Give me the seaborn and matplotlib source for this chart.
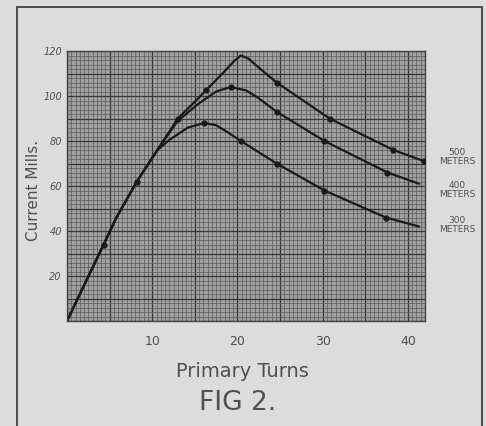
import matplotlib
matplotlib.use("Agg")
import matplotlib.pyplot as plt
import seaborn as sns
import numpy as np
from matplotlib.patches import Rectangle
from matplotlib.ticker import MultipleLocator

# ---- data ----
turns_500 = [0, 4.3, 5.8, 8.2, 10.6, 13, 15.4, 16.3, 18.5, 19.6, 20.4, 21.3, 22.5, 24.6, 30.8, 38.3, 41.9]
current_500 = [0, 34, 46, 62, 76, 90, 99, 102.5, 111, 115.5, 118, 116.6, 112.6, 106, 90, 76, 71]
marks_500 = [1, 3, 5, 7, 13, 14, 15, 16]

turns_400 = [0, 4.3, 5.8, 8.2, 10.6, 13, 15.4, 17.5, 19.2, 21, 22.3, 24.6, 30.2, 37.6, 41.3]
current_400 = [0, 34, 46, 62, 76, 89, 96.5, 102, 104, 102.5, 99.5, 93, 80, 66, 61]
marks_400 = [8, 11, 12, 13]

turns_300 = [0, 4.3, 5.8, 8.2, 10.6, 12, 14.2, 16.1, 17.5, 18.6, 20.4, 24.6, 30.2, 37.4, 41.3]
current_300 = [0, 34, 46, 62, 76, 80.5, 86, 88, 87, 84.5, 80, 70, 58, 46, 42]
marks_300 = [7, 10, 11, 12, 13]

x_ticks = [10, 20, 30, 40]
y_ticks = [20, 40, 60, 80, 100, 120]
series_labels = ["500\nMETERS", "400\nMETERS", "300\nMETERS"]

sns.set_style("white")
plt.rcParams['font.family'] = ['DejaVu Sans']

W, H = 486, 427
fig = plt.figure(figsize=(W / 100, H / 100), dpi=100)
fig.patch.set_facecolor('#dcdcdc')

# outer frame
fig.add_artist(Rectangle((17 / W, -0.01), (482 - 17) / W, 1 - 8 / H + 0.01,
                         transform=fig.transFigure, fill=False,
                         edgecolor='#333333', lw=1.2))

ax = fig.add_axes([67 / W, 1 - 322 / H, (425 - 67) / W, (322 - 52) / H])
ax.set_facecolor('#a0a0a0')
ax.set_xlim(0, 42)
ax.set_ylim(0, 120)

ax.xaxis.set_minor_locator(MultipleLocator(0.5))
ax.yaxis.set_minor_locator(MultipleLocator(2))
ax.xaxis.set_major_locator(MultipleLocator(5))
ax.yaxis.set_major_locator(MultipleLocator(10))
ax.grid(which='minor', color='#5a5a5a', lw=0.5)
ax.grid(which='major', color='#383838', lw=0.9)
ax.set_axisbelow(True)
ax.tick_params(which='both', length=0, labelbottom=False, labelleft=False)
for s in ax.spines.values():
    s.set_color('#444444')
    s.set_linewidth(1.0)

for tx, cy, mk in [(turns_500, current_500, marks_500),
                   (turns_400, current_400, marks_400),
                   (turns_300, current_300, marks_300)]:
    sns.lineplot(x=tx, y=cy, ax=ax, sort=False, color='#1a1a1a', lw=1.6)
    ax.plot([tx[i] for i in mk], [cy[i] for i in mk], 'o',
            color='#1a1a1a', ms=3.5, zorder=5)

tc = '#505050'
for v in x_ticks:
    ax.text(v, -6, str(v), ha='center', va='top', fontsize=9, color=tc)
for v in y_ticks:
    ax.text(-0.6, v, str(v), ha='right', va='center', fontsize=7,
            color=tc, style='italic')

fig.text(33 / W, 1 - 190 / H, "Current Mills.", rotation=90, ha='center',
         va='center', fontsize=11, color=tc)
fig.text(242 / W, 1 - 372 / H, "Primary Turns", ha='center', va='center',
         fontsize=14, color=tc)
fig.text(238 / W, 1 - 403 / H, "FIG 2.", ha='center', va='center',
         fontsize=19, color=tc)

for lbl, yy in zip(series_labels, [157, 190, 225]):
    fig.text(457 / W, 1 - yy / H, lbl, ha='center', va='center',
             fontsize=6.5, color=tc, linespacing=1.0)

fig.savefig("out.png", dpi=100, facecolor=fig.get_facecolor())
